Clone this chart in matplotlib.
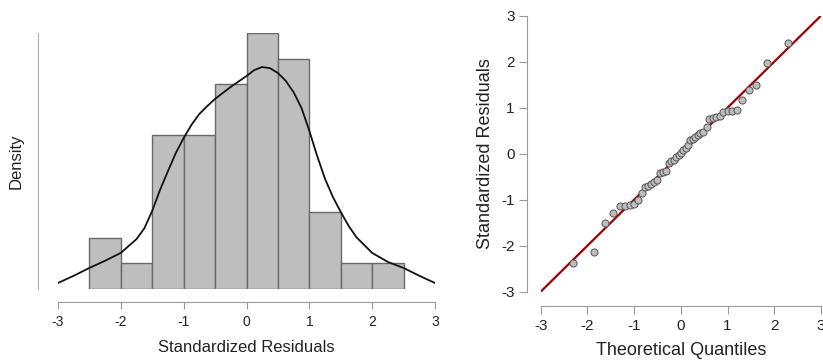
import numpy as np
import matplotlib
matplotlib.use("Agg")
import matplotlib.pyplot as plt

plt.rcParams['font.family'] = ['Liberation Sans', 'DejaVu Sans']
plt.rcParams['axes.unicode_minus'] = False

# histogram of standardized residuals (counts per 0.5-wide bin)
bin_left = [-2.5, -2.0, -1.5, -1.0, -0.5, 0.0, 0.5, 1.0, 1.5, 2.0]
bin_counts = [2, 1, 6, 6, 8, 10, 9, 3, 1, 1]
bin_width = 0.5

# density curve
kde_x = [-3.0, -2.75, -2.5, -2.25, -2.0, -1.75, -1.625, -1.5, -1.375, -1.25, -1.125,
         -1.0, -0.875, -0.75, -0.625, -0.5, -0.25, 0.0, 0.125, 0.25, 0.375, 0.5, 0.625,
         0.75, 0.875, 1.0, 1.125, 1.25, 1.375, 1.5, 1.625, 1.75, 2.0, 2.25, 2.5, 2.75, 3.0]
kde_y = [0.010, 0.022, 0.035, 0.047, 0.060, 0.083, 0.101, 0.130, 0.165, 0.196, 0.226,
         0.251, 0.273, 0.291, 0.304, 0.316, 0.336, 0.354, 0.364, 0.369, 0.367, 0.359, 0.346,
         0.327, 0.301, 0.263, 0.221, 0.183, 0.153, 0.128, 0.105, 0.086, 0.060, 0.045, 0.035,
         0.022, 0.010]

# Q-Q plot points
theo_q = [-2.30, -1.86, -1.62, -1.45, -1.30, -1.19, -1.09, -1.00, -0.91, -0.84, -0.77, -0.70,
          -0.64, -0.58, -0.51, -0.45, -0.38, -0.32, -0.26, -0.21, -0.15, -0.10, -0.05, 0.00,
          0.05, 0.10, 0.16, 0.20, 0.25, 0.30, 0.36, 0.42, 0.48, 0.55, 0.61, 0.68, 0.75, 0.84,
          0.91, 1.00, 1.09, 1.20, 1.30, 1.45, 1.61, 1.85, 2.30]
std_res = [-2.37, -2.13, -1.50, -1.28, -1.14, -1.14, -1.12, -1.09, -1.01, -0.85, -0.72, -0.70,
           -0.66, -0.62, -0.57, -0.41, -0.39, -0.37, -0.20, -0.16, -0.13, -0.08, -0.03, 0.02,
           0.08, 0.13, 0.18, 0.29, 0.31, 0.36, 0.41, 0.44, 0.48, 0.59, 0.75, 0.78, 0.80, 0.82,
           0.91, 0.93, 0.93, 0.96, 1.17, 1.38, 1.49, 1.97, 2.40]

ticks = [-3, -2, -1, 0, 1, 2, 3]
txt = '#222222'
spine_col = '#9a9a9a'

fig = plt.figure(figsize=(8.23, 3.64), dpi=100)

# ---- left: histogram + density
ax1 = fig.add_axes([58 / 823, (364 - 289) / 364, 377 / 823, 256 / 364])
n = sum(bin_counts)
dens = [c / (n * bin_width) for c in bin_counts]
ax1.bar(bin_left, dens, width=bin_width, align='edge', color='#bebebe',
        edgecolor='#6a6a6a', linewidth=1.0)
ax1.plot(kde_x, kde_y, color='#111111', lw=1.3, solid_joinstyle='round')
ax1.set_xlim(-3, 3)
ax1.set_ylim(0, max(dens))
ax1.spines['top'].set_visible(False)
ax1.spines['right'].set_visible(False)
ax1.spines['left'].set_position(('outward', 14.4))
ax1.spines['bottom'].set_position(('outward', 9.4))
ax1.spines['left'].set_color('#b0b0b0')
ax1.spines['bottom'].set_color(spine_col)
ax1.set_yticks([])
ax1.set_xticks(ticks)
ax1.tick_params(axis='x', length=5, color=spine_col, labelsize=10, labelcolor=txt, pad=4)
ax1.set_xlabel('Standardized Residuals', fontsize=12, color=txt, labelpad=8)
ax1.set_ylabel('Density', fontsize=12, color=txt, labelpad=10)
ax1.patch.set_alpha(0)

# ---- right: Q-Q plot
ax2 = fig.add_axes([540.7 / 823, (364 - 291.7) / 364, 280.3 / 823, 276 / 364])
ax2.plot(ticks, ticks, color='#a00000', lw=1.6, zorder=1)
ax2.scatter(theo_q, std_res, s=26, color='#bdbdbd', edgecolor='#555555',
            linewidth=0.7, zorder=2)
ax2.set_xlim(-3, 3)
ax2.set_ylim(-3, 3)
ax2.spines['top'].set_visible(False)
ax2.spines['right'].set_visible(False)
ax2.spines['left'].set_position(('outward', 9.6))
ax2.spines['bottom'].set_position(('outward', 10.3))
ax2.spines['left'].set_color(spine_col)
ax2.spines['bottom'].set_color(spine_col)
ax2.set_xticks(ticks)
ax2.set_yticks(ticks)
ax2.tick_params(length=6, color=spine_col, labelsize=11, labelcolor=txt, pad=3)
ax2.set_xlabel('Theoretical Quantiles', fontsize=13, color=txt, labelpad=7)
ax2.set_ylabel('Standardized Residuals', fontsize=13, color=txt, labelpad=5)
ax2.patch.set_alpha(0)

fig.savefig('out.png', dpi=100)
